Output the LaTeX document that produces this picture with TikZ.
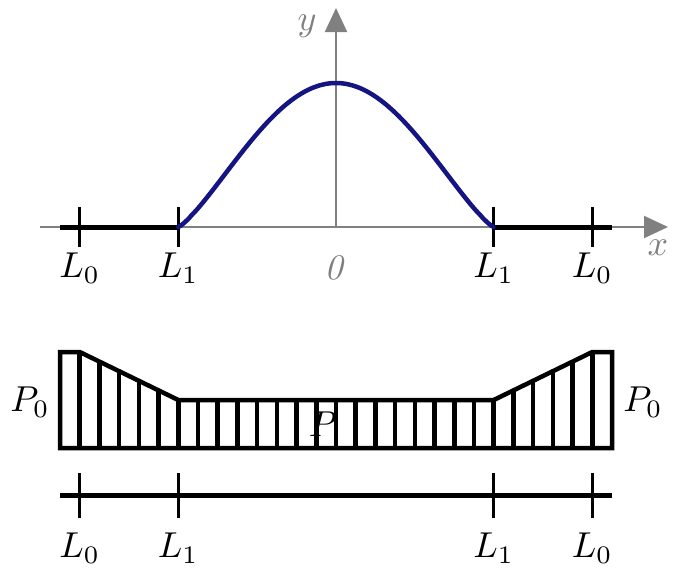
\documentclass[tikz,border=0pt]{standalone}
\usetikzlibrary{arrows.meta}
\definecolor{axisgray}{RGB}{128,128,128}
\definecolor{curveblue}{RGB}{20,20,130}
\begin{document}
\begin{tikzpicture}[x=1pt,y=-1pt,
  axisline/.style={draw=axisgray,line width=2pt},
  thickblack/.style={draw=black,line width=5pt},
  tickline/.style={draw=black,line width=3pt},
  hatchline/.style={draw=black,line width=4.5pt},
  lbl/.style={scale=3.6,inner sep=0pt},
  glbl/.style={lbl,text=axisgray},
  arrowtip/.style={-{Triangle[length=24pt,width=22pt]}}]
\useasboundingbox (0,0) rectangle (678,574);
\def\LA{79.7}\def\LB{178.3}\def\LC{493.7}\def\LD{592.3}
% ---------- top graph ----------
\coordinate (xs) at (40,227);
\coordinate (xe) at (668,227);
\coordinate (ys) at (336,227);
\coordinate (ye) at (336,8);
\draw[axisline,arrowtip,draw=axisgray,fill=axisgray] (xs) -- (xe);
\draw[axisline,arrowtip,draw=axisgray,fill=axisgray] (ys) -- (ye);
\draw[thickblack] (60,227) -- (\LB,227);
\draw[thickblack] (\LC,227) -- (612,227);
\foreach \xx in {\LA,\LB,\LC,\LD}{
  \draw[tickline] (\xx,207) -- (\xx,247);
}
\draw[curveblue,line width=4.5pt,line cap=round,variable=\t,domain=-1:1,samples=121,smooth]
  plot ({336+157.7*\t},{227-144*pow(abs(cos(90*\t)),1.25)});
\node[lbl] (tL0a) at (\LA,268) {$L_0$};
\node[lbl] (tL1a) at (\LB,268) {$L_1$};
\node[glbl] (t0) at (336,268) {$\mathit{0}$};
\node[lbl] (tL1b) at (\LC,268) {$L_1$};
\node[lbl] (tL0b) at (\LD,268) {$L_0$};
\node[glbl] (xl) at (658,248) {$x$};
\node[glbl] (yl) at (307,26) {$y$};
% ---------- load diagram ----------
\pgfmathsetmacro{\slA}{48/(\LB-\LA)}
\pgfmathsetmacro{\slB}{48/(\LD-\LC)}
\foreach \i in {0,...,28}{
  \pgfmathsetmacro{\xx}{60+(\i/28)*552}
  \pgfmathsetmacro{\yy}{\xx<=\LA ? 352 : (\xx<=\LB ? 352+\slA*(\xx-\LA) : (\xx<=\LC ? 400 : (\xx<=\LD ? 400-\slB*(\xx-\LC) : 352)))}
  \draw[hatchline] (\xx,448) -- (\xx,\yy);
}
\draw[hatchline,line join=miter] (60,448) -- (60,352) -- (\LA,352) -- (\LB,400) -- (\LC,400) -- (\LD,352) -- (612,352) -- (612,448) -- cycle;
\node[lbl] (p0l) at (30,402) {$P_0$};
\node[lbl] (p0r) at (643,402) {$P_0$};
\node[lbl] (pc) at (323,424) {$P$};
% ---------- bottom scale ----------
\draw[thickblack] (60,495) -- (612,495);
\foreach \xx in {\LA,\LB,\LC,\LD}{
  \draw[tickline] (\xx,473) -- (\xx,518);
}
\node[lbl] (bL0a) at (\LA,548) {$L_0$};
\node[lbl] (bL1a) at (\LB,548) {$L_1$};
\node[lbl] (bL1b) at (\LC,548) {$L_1$};
\node[lbl] (bL0b) at (\LD,548) {$L_0$};
\end{tikzpicture}
\end{document}
